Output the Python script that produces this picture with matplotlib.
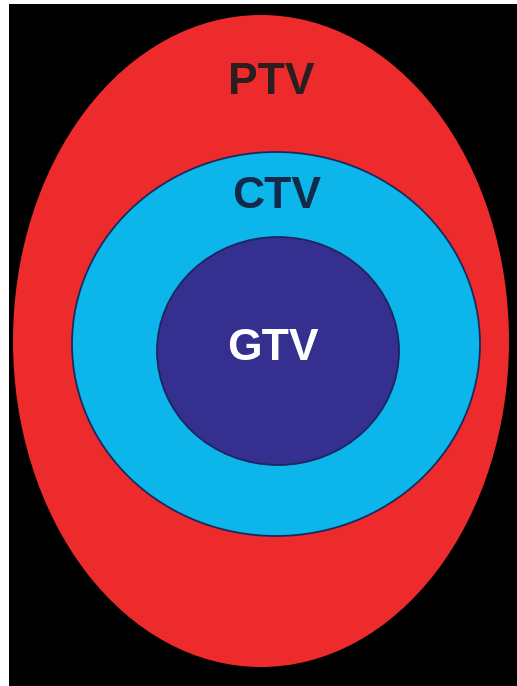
import matplotlib
matplotlib.use("Agg")
import matplotlib.pyplot as plt
from matplotlib.patches import Ellipse, Rectangle

# Volumes, outer to inner (pixel units of the original picture)
labels = ["PTV", "CTV", "GTV"]
centers_x = [261, 276, 278]
centers_y = [341, 344, 351]
widths = [496, 408, 242]
heights = [652, 384, 228]
fills = ["#ed2b2d", "#0cb5ea", "#35308f"]
edges = ["none", "#1b2a5a", "#1b2560"]

# label positions and colours
label_x = [271, 277, 273]
label_y = [82, 197, 349]
label_colors = ["#2a1e1f", "#13294a", "#ffffff"]

W, H = 517, 686

fig = plt.figure(figsize=(W / 100, H / 100), dpi=100, facecolor="white")
ax = fig.add_axes([0, 0, 1, 1])
ax.set_xlim(0, W)
ax.set_ylim(H, 0)
ax.axis("off")

# black backdrop, thin white margin on left and top
ax.add_patch(Rectangle((9, 4), W - 9, H - 4, facecolor="black", edgecolor="none"))

for cx, cy, w, h, fc, ec in zip(centers_x, centers_y, widths, heights, fills, edges):
    ax.add_patch(Ellipse((cx, cy), w, h, facecolor=fc, edgecolor=ec, linewidth=1.3))

for name, x, y, c in zip(labels, label_x, label_y, label_colors):
    ax.text(x, y, name, ha="center", va="center", color=c, fontsize=32,
            fontweight="bold", family=["Liberation Sans", "DejaVu Sans"])

fig.savefig("out.png", dpi=100, facecolor="white")
